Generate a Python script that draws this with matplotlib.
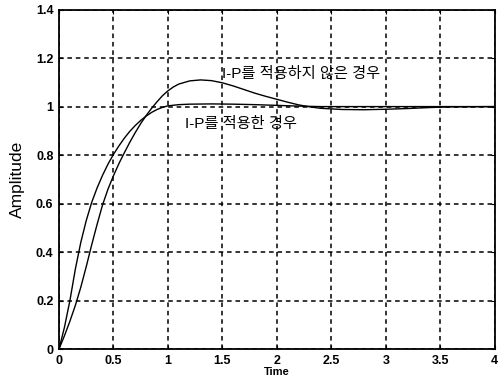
import matplotlib
matplotlib.use("Agg")
import matplotlib.pyplot as plt

plt.rcParams['font.family'] = ['Liberation Sans', 'Noto Sans CJK KR']

# With I-P (no overshoot)
t_ip = [0, 0.05, 0.1, 0.15, 0.2, 0.25, 0.3, 0.35, 0.4, 0.45, 0.5, 0.55, 0.6, 0.65, 0.7, 0.75,
        0.8, 0.85, 0.9, 0.95, 1.0, 1.1, 1.2, 1.4, 1.6, 1.8, 2.0, 2.2, 2.4, 2.6, 3.0, 3.5, 4.0]
y_ip = [0, 0.09, 0.2, 0.33, 0.44, 0.53, 0.605, 0.665, 0.717, 0.763, 0.803, 0.838, 0.87, 0.898,
        0.922, 0.943, 0.961, 0.976, 0.988, 0.997, 1.003, 1.008, 1.01, 1.011, 1.01, 1.008, 1.005,
        1.002, 1.0, 1.0, 1.0, 1.0, 1.0]

# Without I-P (overshoot)
t_no = [0, 0.05, 0.1, 0.15, 0.2, 0.25, 0.3, 0.35, 0.4, 0.45, 0.5, 0.55, 0.6, 0.65, 0.7, 0.75,
        0.8, 0.85, 0.9, 0.95, 1.0, 1.05, 1.1, 1.2, 1.3, 1.4, 1.5, 1.6, 1.7, 1.8, 1.9, 2.0, 2.1,
        2.2, 2.3, 2.4, 2.6, 2.8, 3.0, 3.2, 3.4, 3.6, 4.0]
y_no = [0, 0.055, 0.115, 0.18, 0.255, 0.34, 0.43, 0.515, 0.595, 0.66, 0.715, 0.765, 0.81, 0.853,
        0.893, 0.93, 0.963, 0.993, 1.02, 1.045, 1.065, 1.081, 1.093, 1.106, 1.11, 1.107, 1.098,
        1.085, 1.07, 1.055, 1.042, 1.03, 1.018, 1.007, 0.999, 0.993, 0.988, 0.987, 0.989, 0.992,
        0.996, 0.999, 1.0]

x_ticks = [0, 0.5, 1, 1.5, 2, 2.5, 3, 3.5, 4]
x_labels = ['0', '0.5', '1', '1.5', '2', '2.5', '3', '3.5', '4']
y_ticks = [0, 0.2, 0.4, 0.6, 0.8, 1.0, 1.2, 1.4]
y_labels = ['0', '0.2', '0.4', '0.6', '0.8', '1', '1.2', '1.4']

label_no = 'I-P를 적용하지 않은 경우'
label_ip = 'I-P를 적용한 경우'

fig = plt.figure(figsize=(4.98, 3.84), dpi=100)
ax = fig.add_axes([0.1185, 0.091, 0.875, 0.884])

ax.plot(t_no, y_no, color='black', lw=1.0)
ax.plot(t_ip, y_ip, color='black', lw=1.0)

ax.set_xlim(0, 4)
ax.set_ylim(0, 1.4)
ax.set_xticks(x_ticks)
ax.set_xticklabels(x_labels)
ax.set_yticks(y_ticks)
ax.set_yticklabels(y_labels)
ax.tick_params(direction='in', length=3, top=True, right=True, labelsize=9)
ax.tick_params(axis='x', pad=4)
ax.tick_params(axis='y', pad=4)
for lab in ax.get_xticklabels() + ax.get_yticklabels():
    lab.set_fontweight('bold')

ax.grid(True, color='black', linestyle=(0, (3, 2.5)), linewidth=1.1)
for s in ax.spines.values():
    s.set_linewidth(1.3)
    s.set_color('black')

ax.set_xlabel('Time', fontsize=8, fontweight='bold', labelpad=0)
ax.set_ylabel('Amplitude', fontsize=12.5, labelpad=8)

ax.text(1.5, 1.135, label_no, fontsize=11, va='center', ha='left')
ax.text(1.16, 0.93, label_ip, fontsize=11, va='center', ha='left')

fig.savefig('out.png', dpi=100)
